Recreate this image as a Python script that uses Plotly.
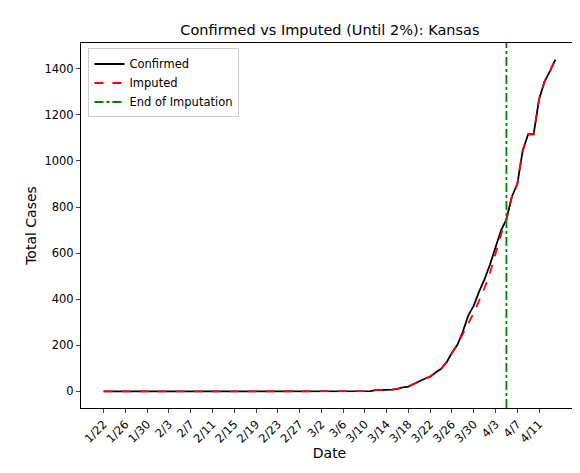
import datetime as dt
import plotly.graph_objects as go

start = dt.date(2020, 1, 22)
n_days = 84
dates = [f"{(start + dt.timedelta(d)).month}/{(start + dt.timedelta(d)).day}" for d in range(n_days)]

# Kansas confirmed cases from 3/7 on (zeros before)
confirmed_tail = [1, 1, 1, 1, 1, 6, 6, 8, 8, 11, 18, 21, 34, 44, 55, 64, 82, 98, 126, 168,
                  202, 260, 330, 372, 434, 488, 552, 629, 698, 747, 845, 900, 1046, 1116,
                  1116, 1268, 1344, 1390, 1440]
imputed_tail = [1, 1, 1, 1, 1, 6, 6, 8, 8, 11, 18, 21, 34, 44, 55, 64, 82, 98, 126, 165,
                205, 250, 295, 340, 395, 450, 515, 595, 680, 747, 845, 900, 1046, 1116,
                1116, 1268, 1344, 1390, 1440]
confirmed = [0] * (n_days - len(confirmed_tail)) + confirmed_tail
imputed = [0] * (n_days - len(imputed_tail)) + imputed_tail
end_imputation = 74  # index of 4/5
tick_labels = dates[::4][:21]

x = list(range(n_days))
fig = go.Figure()
fig.add_trace(go.Scatter(x=x, y=confirmed, mode="lines", name="Confirmed",
                         line=dict(color="black", width=1.8)))
fig.add_trace(go.Scatter(x=x, y=imputed, mode="lines", name="Imputed",
                         line=dict(color="red", width=1.8, dash="dash")))
fig.add_trace(go.Scatter(x=[end_imputation, end_imputation], y=[-72, 1512], mode="lines",
                         name="End of Imputation",
                         line=dict(color="green", width=1.8, dash="dashdot")))

fig.update_layout(
    width=580, height=473,
    font=dict(family="DejaVu Sans", size=11.5, color="black"),
    title=dict(text="Confirmed vs Imputed (Until 2%): Kansas", x=0.555, y=0.965,
               xanchor="center", font=dict(size=14.5)),
    plot_bgcolor="white", paper_bgcolor="white",
    margin=dict(l=73, r=10, t=35, b=73),
    xaxis=dict(title=dict(text="Date", standoff=2), range=[-4.15, 87.15],
               tickvals=list(range(0, 84, 4))[:21], ticktext=tick_labels,
               tickangle=-45, showgrid=False, zeroline=False, showline=True,
               linecolor="black", mirror=True, ticks="outside", ticklen=4,
               automargin=False),
    yaxis=dict(title=dict(text="Total Cases", standoff=4), range=[-72, 1512],
               tickvals=list(range(0, 1600, 200)),
               showgrid=False, zeroline=False, showline=True, linecolor="black",
               mirror=True, ticks="outside", ticklen=4, automargin=False),
    legend=dict(x=0.015, y=0.985, xanchor="left", yanchor="top",
                font=dict(size=11.5), tracegroupgap=0,
                bordercolor="#cccccc", borderwidth=1, bgcolor="white"),
)
fig.write_html("out.html")
